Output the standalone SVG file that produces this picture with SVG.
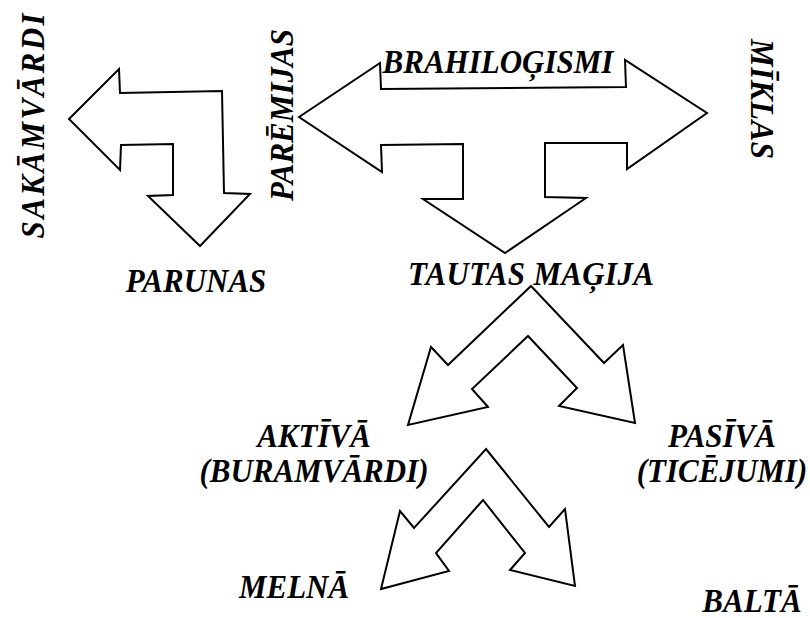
<svg xmlns="http://www.w3.org/2000/svg" width="810" height="618" viewBox="0 0 810 618">
<style>
.a{fill:#fff;stroke:#000;stroke-width:2;stroke-linejoin:miter}
.t{font-family:"Liberation Serif","Times New Roman",serif;font-weight:bold;font-style:italic;font-size:31px;fill:#000;text-anchor:middle}
</style>
<rect width="810" height="618" fill="#fff"/>
<g id="connectors">
<polygon id="arrow-bent" class="a" points="69,119 119,69 120,93 222,91 224,193 250,194 200,246 148,196 173,195 173,144 121,145 120,170"/>
<polygon id="arrow-t" class="a" points="299,117 380,63 381,89 626,87 625,60 707,113 627,169 627,143 545,143 545,197 586,198 505,253 423,199 463,199 463,144 381,145 382,172"/>
<polygon id="arrow-magija" class="a" points="531,286 604,363 623,345 635,423 559,406 577,388 528,336 472,389 488,407 408,425 431,347 448,365"/>
<polygon id="arrow-bottom" class="a" points="486,449 549,527 565,509 575,586 510,570 525,553 483,500 436,553 449,571 381,589 400,511 414,528"/>
</g>
<g id="sakamvardi"><text class="t" transform="translate(44,126) rotate(-90) scale(1,1.1)" textLength="225" lengthAdjust="spacing">SAKĀMVĀRDI</text></g>
<g id="paremijas"><text class="t" transform="translate(293,115) rotate(-90) scale(1,1.1)" textLength="172" lengthAdjust="spacing">PARĒMIJAS</text></g>
<g id="miklas"><text class="t" transform="translate(751,99) rotate(90) scale(1,1.1)" textLength="120" lengthAdjust="spacing">MĪKLAS</text></g>
<g id="brahilogismi"><text class="t" transform="translate(498,73) scale(1,1.1)">BRAHILOĢISMI</text></g>
<g id="parunas"><text class="t" transform="translate(196,292) scale(1,1.1)">PARUNAS</text></g>
<g id="tautas-magija"><text class="t" transform="translate(531,285) scale(1,1.1)" textLength="246" lengthAdjust="spacing">TAUTAS MAĢIJA</text></g>
<g id="aktiva"><text class="t" transform="translate(314,447) scale(1,1.1)">AKTĪVĀ</text><text class="t" transform="translate(314,482) scale(1,1.1)">(BURAMVĀRDI)</text></g>
<g id="pasiva"><text class="t" transform="translate(722,447) scale(1,1.1)">PASĪVĀ</text><text class="t" transform="translate(722,482) scale(1,1.1)">(TICĒJUMI)</text></g>
<g id="melna"><text class="t" transform="translate(294,598) scale(1,1.1)">MELNĀ</text></g>
<g id="balta"><text class="t" transform="translate(752,612) scale(1,1.1)">BALTĀ</text></g>
</svg>
